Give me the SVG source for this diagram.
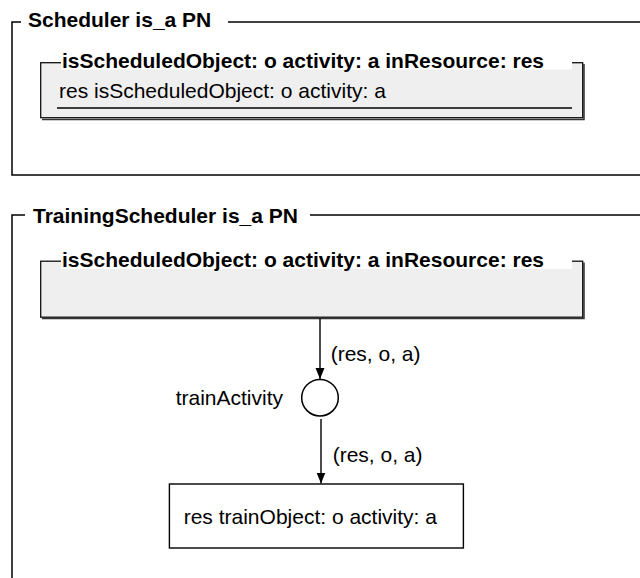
<svg xmlns="http://www.w3.org/2000/svg" width="640" height="578" viewBox="0 0 640 578">
<style>
text{font-family:"Liberation Sans",Arial,Helvetica,sans-serif;font-size:21px;fill:#000}
.b{font-weight:bold}
.frame{fill:none;stroke:#000;stroke-width:1.5}
.box{fill:#efefef;stroke:#111;stroke-width:1.3}
.shadow{fill:none;stroke:#333;stroke-width:1.5}
.tbg{fill:#fff}
.edge{stroke:#000;stroke-width:1.4;fill:none}
</style>
<defs>
<marker id="arr" markerWidth="12" markerHeight="10" refX="11" refY="4.5" orient="auto" markerUnits="userSpaceOnUse">
<path d="M0,0 L11,4.5 L0,9 Z" fill="#000"/>
</marker>
</defs>
<rect width="640" height="578" fill="#fff"/>
<g id="frame-scheduler">
<path class="frame" d="M21,22 H12 V175 H640"/>
<path class="frame" d="M228,22 H640"/>
<text class="b" x="28" y="27">Scheduler is_a PN</text>
</g>
<g id="scheduler-place">
<path class="shadow" d="M584,64 V119.5 H42"/>
<rect class="box" x="40.7" y="62.7" width="542" height="55"/>
<rect class="tbg" x="61" y="53" width="511" height="16.5"/>
<text class="b" x="62" y="68">isScheduledObject: o activity: a inResource: res</text>
<text x="59" y="98">res isScheduledObject: o activity: a</text>
<line x1="57" y1="108" x2="572" y2="108" stroke="#000" stroke-width="1.4"/>
</g>
<g id="frame-training">
<path class="frame" d="M25,215 H12 V578"/>
<path class="frame" d="M310,215 H640"/>
<text class="b" x="33" y="223">TrainingScheduler is_a PN</text>
</g>
<g id="training-place">
<path class="shadow" d="M584,262.5 V318.5 H42"/>
<rect class="box" x="40.7" y="261.2" width="542" height="56"/>
<rect class="tbg" x="61" y="251.5" width="511" height="17.5"/>
<text class="b" x="62" y="267">isScheduledObject: o activity: a inResource: res</text>
</g>
<g id="trainActivity">
<ellipse cx="320" cy="397.7" rx="18.3" ry="18.3" fill="#fff" stroke="#000" stroke-width="1.5"/>
<text x="283" y="405" text-anchor="end">trainActivity</text>
</g>
<g id="trainObject">
<rect x="169.4" y="484" width="294" height="64" fill="#fff" stroke="#000" stroke-width="1.4"/>
<text x="183.7" y="524">res trainObject: o activity: a</text>
</g>
<g id="connectors">
<line class="edge" x1="320" y1="318.5" x2="320" y2="379" marker-end="url(#arr)"/>
<text x="330.7" y="361">(res, o, a)</text>
<line class="edge" x1="321" y1="419" x2="321" y2="483.5" marker-end="url(#arr)"/>
<text x="332.7" y="461.5">(res, o, a)</text>
</g>
</svg>
